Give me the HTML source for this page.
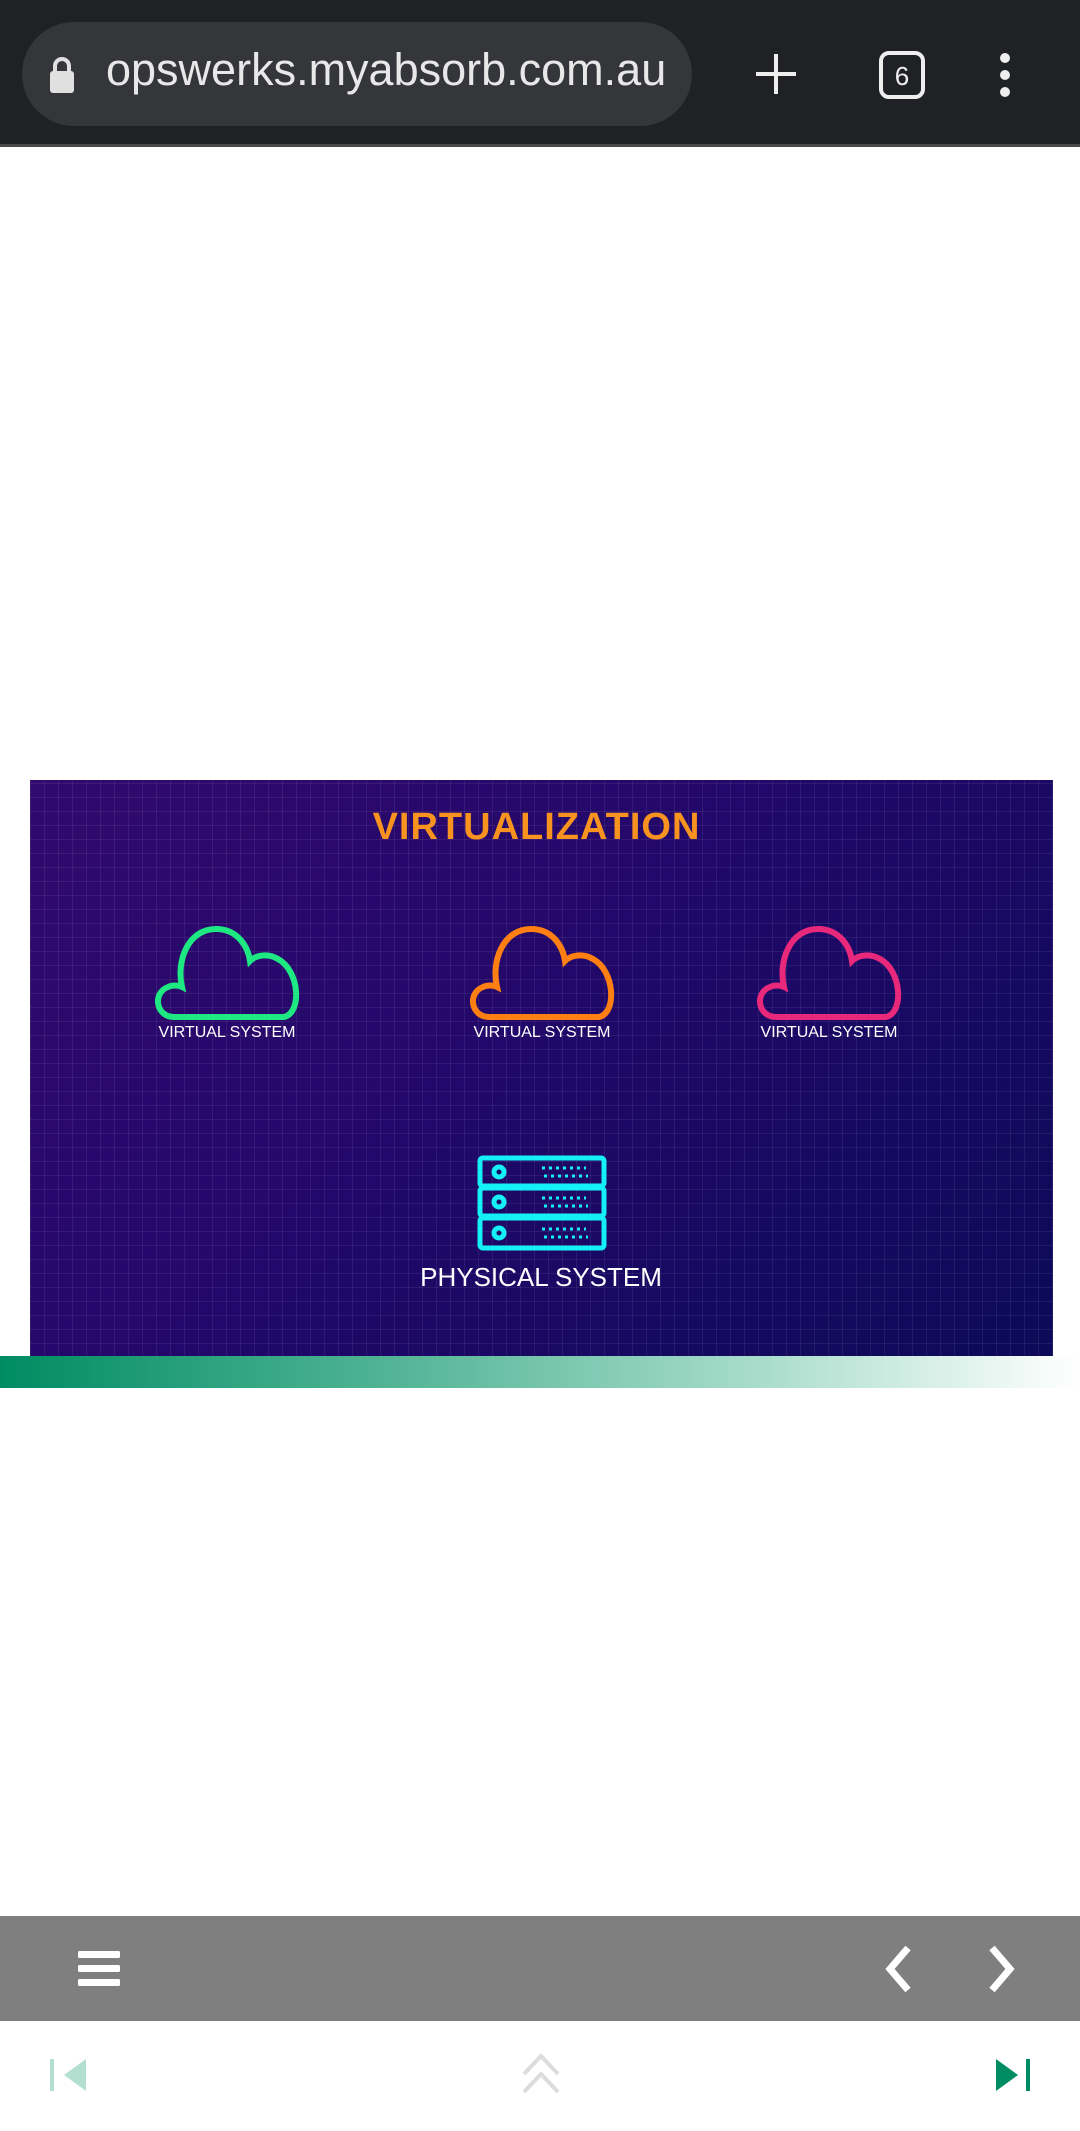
<!DOCTYPE html>
<html><head><meta charset="utf-8"><style>
*{margin:0;padding:0;box-sizing:border-box}
body{width:1080px;height:2131px;background:#fff;position:relative;overflow:hidden;font-family:"Liberation Sans",sans-serif}
.top{position:absolute;left:0;top:0;width:1080px;height:147px;background:#202124;border-bottom:3px solid #4a4a4c}
.pill{position:absolute;left:22px;top:22px;width:670px;height:104px;border-radius:52px;background:#35363a}
.url{position:absolute;left:106px;top:44px;font-size:45px;color:#e8e8e8;white-space:nowrap;width:565px;overflow:hidden}
.video{position:absolute;left:30px;top:780px;width:1023px;height:578px;background:linear-gradient(135deg,#32096e 0%,#22086a 45%,#0c0a58 100%);overflow:hidden}
.grid{position:absolute;inset:0;background-image:repeating-linear-gradient(0deg,rgba(255,255,255,.07) 0 1px,transparent 1px 14px),repeating-linear-gradient(90deg,rgba(255,255,255,.07) 0 1px,transparent 1px 14px)}
.title{position:absolute;left:0;width:1023px;top:26px;text-align:center;color:#f7931e;font-weight:bold;font-size:38px;letter-spacing:1px;padding-right:10px}
.lbl{position:absolute;color:#fff;font-size:16px;width:200px;text-align:center}
.bar{position:absolute;left:0;top:1356px;width:1080px;height:32px;background:linear-gradient(90deg,#008c62 0%,#4fb393 35%,#a8dccb 70%,#fff 100%)}
.gray{position:absolute;left:0;top:1916px;width:1080px;height:105px;background:#7f7f7f}
</style></head><body>
<div class="top">
 <div class="pill"></div>
 <svg style="position:absolute;left:48px;top:54px" width="28" height="42"><path d="M7 18 V12 a7 7 0 0 1 14 0 V18" fill="none" stroke="#e0e0e0" stroke-width="4"/><rect x="2" y="17" width="24" height="22" rx="3" fill="#e0e0e0"/></svg>
 <div class="url">opswerks.myabsorb.com.au</div>
 <svg style="position:absolute;left:754px;top:52px" width="44" height="44"><path d="M22 2V42M2 22H42" stroke="#eee" stroke-width="4"/></svg>
 <svg style="position:absolute;left:878px;top:50px" width="48" height="50"><rect x="3" y="3" width="42" height="44" rx="8" fill="none" stroke="#eee" stroke-width="4"/><text x="24" y="35" text-anchor="middle" font-size="26" fill="#eee" font-family="Liberation Sans">6</text></svg>
 <svg style="position:absolute;left:996px;top:52px" width="18" height="46"><circle cx="9" cy="6" r="5" fill="#eee"/><circle cx="9" cy="23" r="5" fill="#eee"/><circle cx="9" cy="40" r="5" fill="#eee"/></svg>
</div>

<div class="video"><div class="grid"></div>
 <div class="title">VIRTUALIZATION</div>
 <svg style="position:absolute;left:0;top:0" width="1023" height="578">
  <defs><path id="cl" d="M22 92 C4 92 0 68 16 62 C20 60 26 60 30 62 C24 36 36 4 64 4 C86 4 96 22 98 36 C104 30 116 28 126 34 C148 46 150 88 132 92 Z"/></defs>
  <use href="#cl" x="122" y="145" fill="none" stroke="#1ee882" stroke-width="6"/>
  <use href="#cl" x="437" y="145" fill="none" stroke="#ff7f12" stroke-width="6"/>
  <use href="#cl" x="724" y="145" fill="none" stroke="#e8287a" stroke-width="6"/>
  <g fill="none" stroke="#14f0f5" stroke-width="5">
   <rect x="450" y="378" width="124" height="28" rx="3"/>
   <rect x="450" y="408" width="124" height="28" rx="3"/>
   <rect x="450" y="438" width="124" height="30" rx="3"/>
   <circle cx="469" cy="392" r="5"/><circle cx="469" cy="422" r="5"/><circle cx="469" cy="453" r="5"/>
  </g>
  <g stroke="#14f0f5" stroke-width="3" stroke-dasharray="3 4">
   <path d="M512 388H556M514 396H558M512 418H556M514 426H558M512 449H556M514 457H558"/>
  </g>
 </svg>
 <div class="lbl" style="left:97px;top:244px">VIRTUAL SYSTEM</div>
 <div class="lbl" style="left:412px;top:244px">VIRTUAL SYSTEM</div>
 <div class="lbl" style="left:699px;top:244px">VIRTUAL SYSTEM</div>
 <div class="lbl" style="left:361px;top:482px;width:300px;font-size:26px">PHYSICAL SYSTEM</div>
</div>
<div class="bar"></div>

<div class="gray">
 <svg style="position:absolute;left:78px;top:35px" width="42" height="36"><rect x="0" y="0" width="42" height="7" rx="1.5" fill="#fff"/><rect x="0" y="14" width="42" height="7" rx="1.5" fill="#fff"/><rect x="0" y="28" width="42" height="7" rx="1.5" fill="#fff"/></svg>
 <svg style="position:absolute;left:880px;top:28px" width="36" height="50"><path d="M28 4 L10 25 L28 46" fill="none" stroke="#fff" stroke-width="7"/></svg>
 <svg style="position:absolute;left:984px;top:28px" width="36" height="50"><path d="M8 4 L26 25 L8 46" fill="none" stroke="#fff" stroke-width="7"/></svg>
</div>
<svg style="position:absolute;left:48px;top:2056px" width="40" height="38"><rect x="2" y="3" width="4" height="32" fill="#b3dfd1"/><path d="M38 3 V35 L16 19 Z" fill="#b3dfd1"/></svg>
<svg style="position:absolute;left:520px;top:2052px" width="42" height="44"><path d="M4 22 L21 4 L38 22 M4 40 L21 22 L38 40" fill="none" stroke="#dcdcdc" stroke-width="4"/></svg>
<svg style="position:absolute;left:994px;top:2056px" width="40" height="38"><path d="M2 3 V35 L24 19 Z" fill="#008c62"/><rect x="32" y="3" width="4" height="32" fill="#008c62"/></svg>
</body></html>
